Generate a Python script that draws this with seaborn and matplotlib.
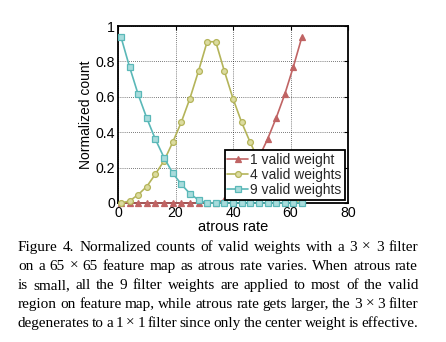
import matplotlib
matplotlib.use("Agg")
import matplotlib.pyplot as plt
import seaborn as sns
import pandas as pd

# ---- data ----
atrous_rate = [1, 4, 7, 10, 13, 16, 19, 22, 25, 28, 31, 34, 37, 40, 43, 46, 49, 52, 55, 58, 61, 64]
one_valid = [0, 0, 0, 0, 0, 0, 0, 0, 0, 0, 0, 0, 0.017, 0.053, 0.106, 0.17, 0.257, 0.36, 0.48, 0.614, 0.77, 0.94]
four_valid = [0, 0.011, 0.047, 0.093, 0.163, 0.238, 0.342, 0.456, 0.59, 0.745, 0.911,
              0.911, 0.745, 0.59, 0.456, 0.342, 0.238, 0.163, 0.093, 0.047, 0.011, 0]
nine_valid = [0.94, 0.77, 0.614, 0.48, 0.36, 0.257, 0.17, 0.106, 0.053, 0.017, 0, 0, 0, 0, 0, 0, 0, 0, 0, 0, 0, 0]
series_names = ["1 valid weight", "4 valid weights", "9 valid weights"]
x_ticks = [0, 20, 40, 60, 80]
y_ticks = [0, 0.2, 0.4, 0.6, 0.8, 1]
y_tick_labels = ["0", "0.2", "0.4", "0.6", "0.8", "1"]
caption_lines = [
    "Figure 4. Normalized counts of valid weights with a 3 \u00d7 3 filter",
    "on a 65 \u00d7 65 feature map as atrous rate varies. When atrous rate",
    "is small, all the 9 filter weights are applied to most of the valid",
    "region on feature map, while atrous rate gets larger, the 3 \u00d7 3 filter",
    "degenerates to a 1 \u00d7 1 filter since only the center weight is effective.",
]

sns.set_theme(style="white")
plt.rcParams["font.family"] = ["Liberation Sans", "DejaVu Sans"]

fig = plt.figure(figsize=(4.46, 3.42), dpi=100)
fig.patch.set_facecolor("white")
W, H = 446, 342
ax = fig.add_axes([118 / W, 1 - 203 / H, 230 / W, 177 / H])
ax.set_facecolor("white")

df = pd.DataFrame({"x": atrous_rate, "a": one_valid, "b": four_valid, "c": nine_valid})
styles = [
    ("a", "#c06464", "^", "#c06464"),
    ("b", "#b4b45a", "o", "#dcdca0"),
    ("c", "#5ab8b8", "s", "#a8dcdc"),
]
for (col, color, marker, face), name in zip(styles, series_names):
    sns.lineplot(data=df, x="x", y=col, ax=ax, color=color, marker=marker,
                 markersize=4.2, markerfacecolor=face, markeredgecolor=color,
                 markeredgewidth=0.9, linewidth=1.2, label=name, clip_on=False)

ax.set_xlim(0, 80)
ax.set_ylim(0, 1)
ax.set_xticks(x_ticks)
ax.set_yticks(y_ticks)
ax.set_yticklabels(y_tick_labels)
ax.grid(True, color="black", linestyle=(0, (1, 2)), linewidth=0.5)
ax.set_axisbelow(True)
for s in ax.spines.values():
    s.set_color("black")
    s.set_linewidth(1.3)
    s.set_zorder(1)
ax.tick_params(direction="in", length=3, width=0.8, colors="black", labelsize=10.2,
               top=True, right=True, pad=2)
ax.set_xlabel("atrous rate", fontsize=10.5, color="black", labelpad=0)
ax.set_ylabel("Normalized count", fontsize=10, color="black", labelpad=2)

leg = ax.legend(loc="lower right", bbox_to_anchor=(1.0, 0.0), fontsize=10,
                fancybox=False, frameon=True, handlelength=1.5, handletextpad=0.15,
                borderpad=0.2, labelspacing=0.08, borderaxespad=0.25)
leg.get_frame().set_edgecolor("black")
leg.get_frame().set_linewidth(1.3)
leg.get_frame().set_alpha(1)
leg.set_zorder(5)

# ---- caption, fully justified ----
renderer = fig.canvas.get_renderer()
left_px, right_px = 18, 418
baselines = [251, 270, 289, 308, 327]
cap_font = dict(family=["Liberation Serif", "DejaVu Serif"], fontsize=11.0, color="black")
for i, line in enumerate(caption_lines):
    y = 1 - baselines[i] / H
    words = line.split(" ")
    texts = [fig.text(0, y, w, va="baseline", ha="left", **cap_font) for w in words]
    widths = [t.get_window_extent(renderer).width for t in texts]
    total = right_px - left_px
    gap = (total - sum(widths)) / (len(words) - 1)
    xpos = left_px
    for t, wdt in zip(texts, widths):
        t.set_x(xpos / W)
        xpos += wdt + gap

fig.savefig("out.png", dpi=100, facecolor="white")
